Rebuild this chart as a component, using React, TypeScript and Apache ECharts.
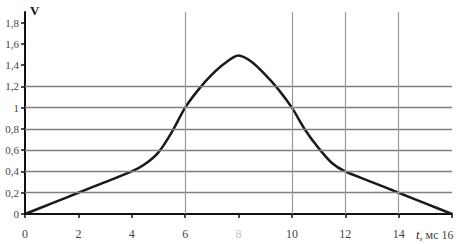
import React, { useEffect, useRef } from "react";
import * as echarts from "echarts";

const tValues = [0, 1, 2, 3, 4, 4.5, 5, 5.5, 6, 6.5, 7, 7.5, 8, 8.5, 9, 9.5, 10, 10.5, 11, 11.5, 12, 13, 14, 15, 16];
const vValues = [0, 0.1, 0.2, 0.3, 0.4, 0.47, 0.58, 0.77, 1.0, 1.17, 1.31, 1.42, 1.49, 1.43, 1.31, 1.17, 1.0, 0.79, 0.62, 0.48, 0.4, 0.3, 0.2, 0.1, 0];
const yTicks = [0, 0.2, 0.4, 0.6, 0.8, 1, 1.2, 1.4, 1.6, 1.8];
const hGrid = [0.2, 0.4, 0.6, 0.8, 1.0, 1.2];
const vGrid = [6, 10, 12, 14];
const fadedXLabels = [8];

export default function App() {
  const ref = useRef<HTMLDivElement>(null);
  useEffect(() => {
    if (!ref.current) return;
    const chart = echarts.init(ref.current, null, { renderer: "svg" });
    const font = "'Liberation Serif', 'DejaVu Serif', serif";
    chart.setOption({
      animation: false,
      backgroundColor: "#ffffff",
      grid: { left: 25, right: 12, top: 12, bottom: 30 },
      xAxis: {
        type: "value",
        min: 0,
        max: 16,
        interval: 2,
        axisLine: { lineStyle: { color: "#111", width: 2 } },
        axisTick: { length: 4, lineStyle: { color: "#111", width: 1.5 } },
        splitLine: { show: false },
        axisLabel: {
          margin: 14,
          fontFamily: font,
          fontSize: 12,
          color: "#444",
          formatter: (v: number) => (v === 16 ? "" : fadedXLabels.includes(v) ? `{f|${v}}` : String(v)),
          rich: { f: { color: "#c4c4c4", fontFamily: font, fontSize: 12 } },
        },
      },
      yAxis: {
        type: "value",
        min: 0,
        max: 1.9,
        axisLine: { show: true, lineStyle: { color: "#111", width: 2 } },
        axisTick: { show: true, length: 4, lineStyle: { color: "#111", width: 1.5 }, customValues: yTicks },
        splitLine: { show: false },
        axisLabel: {
          margin: 6,
          fontFamily: font,
          fontSize: 11,
          color: "#444",
          customValues: yTicks,
          formatter: (v: number) => String(Math.round(v * 10) / 10).replace(".", ","),
        },
      },
      graphic: [
        { type: "text", left: 30, top: 4, style: { text: "V", font: `bold 13px ${font}`, fill: "#111" } },
        { type: "text", left: 416, top: 228, style: { text: "{i|t}, мс 16", rich: { i: { fontStyle: "italic", fontFamily: font, fontSize: 13, fill: "#333" } }, font: `12px ${font}`, fill: "#444" } },
      ],
      series: [
        {
          type: "line",
          data: tValues.map((t, i) => [t, vValues[i]]),
          smooth: 0.3,
          showSymbol: false,
          lineStyle: { color: "#1a1a1a", width: 2.5 },
          markLine: {
            silent: true,
            symbol: "none",
            label: { show: false },
            lineStyle: { color: "#7f7f7f", width: 1.3, type: "solid" },
            data: [
              ...hGrid.map((y) => ({ yAxis: y })),
              ...vGrid.map((x) => ({ xAxis: x, lineStyle: { color: "#9a9a9a", width: 1.2, type: "solid" } })),
            ],
          },
          z: 3,
        },
      ],
    });
    return () => chart.dispose();
  }, []);
  return <div ref={ref} style={{ width: 464, height: 244, position: "absolute", left: 0, top: 0 }} />;
}
